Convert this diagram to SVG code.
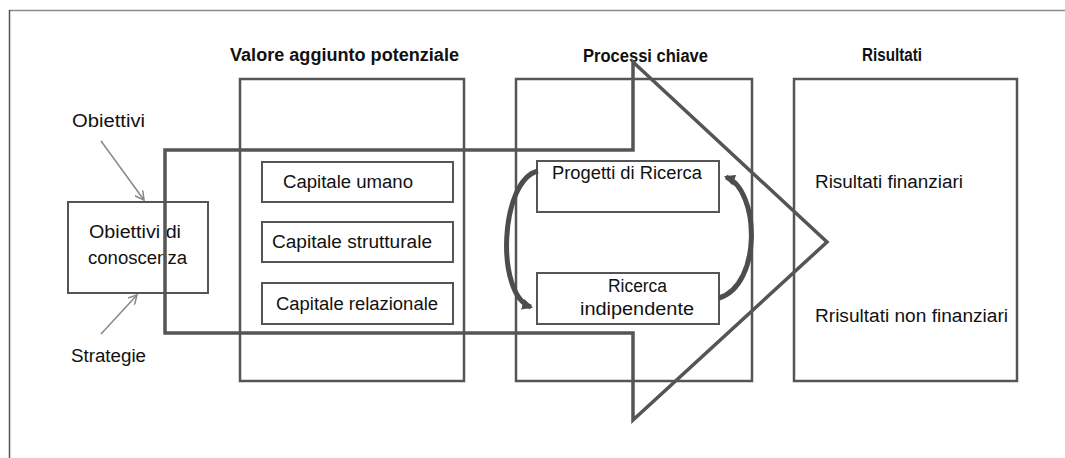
<svg xmlns="http://www.w3.org/2000/svg" width="1065" height="458" viewBox="0 0 1065 458">
<defs>
<style>
.hdr{font-family:"Liberation Sans",Arial,sans-serif;font-weight:bold;font-size:18px;fill:#111}
.txt{font-family:"Liberation Sans",Arial,sans-serif;font-size:18px;fill:#111}
.big{fill:none;stroke:#555;stroke-width:2.5}
.box{fill:none;stroke:#555;stroke-width:2}
.thin{fill:none;stroke:#888;stroke-width:1.5}
.curve{fill:none;stroke:#4d4d4d;stroke-width:5}
</style>
<marker id="open" viewBox="0 0 10 10" refX="9" refY="5" markerWidth="10" markerHeight="10" markerUnits="userSpaceOnUse" orient="auto">
<path d="M0,0 L9,5 L0,10" fill="none" stroke="#888" stroke-width="1.5"/>
</marker>
<marker id="solid" viewBox="0 0 10 10" refX="8" refY="5" markerWidth="11" markerHeight="11" markerUnits="userSpaceOnUse" orient="auto">
<path d="M0,0 L10,5 L0,10 z" fill="#4d4d4d"/>
</marker>
</defs>
<rect width="1065" height="458" fill="#fff"/>
<g id="frame">
<line x1="9" y1="10.5" x2="1065" y2="10.5" stroke="#8a8a8a" stroke-width="1.5"/>
<line x1="9.5" y1="10" x2="9.5" y2="458" stroke="#555" stroke-width="1.5"/>
</g>
<g id="headers">
<text class="hdr" x="230" y="61" textLength="229" lengthAdjust="spacingAndGlyphs">Valore aggiunto potenziale</text>
<text class="hdr" x="583" y="62" textLength="125" lengthAdjust="spacingAndGlyphs">Processi chiave</text>
<text class="hdr" x="862" y="61" textLength="60" lengthAdjust="spacingAndGlyphs">Risultati</text>
</g>
<g id="valore">
<rect class="big" x="240" y="79" width="224" height="302"/>
</g>
<g id="processi">
<rect class="big" x="516" y="79" width="236" height="302"/>
</g>
<g id="risultati">
<rect class="big" x="794" y="79" width="223" height="302"/>
<text class="txt" x="815" y="188" textLength="148" lengthAdjust="spacingAndGlyphs">Risultati finanziari</text>
<text class="txt" x="815" y="322" textLength="193" lengthAdjust="spacingAndGlyphs">Rrisultati non finanziari</text>
</g>
<g id="capitale-umano">
<rect class="box" x="262" y="162" width="191" height="40"/>
<text class="txt" x="283" y="188" textLength="130" lengthAdjust="spacingAndGlyphs">Capitale umano</text>
</g>
<g id="capitale-strutturale">
<rect class="box" x="262" y="222" width="191" height="40"/>
<text class="txt" x="272" y="248" textLength="160" lengthAdjust="spacingAndGlyphs">Capitale strutturale</text>
</g>
<g id="capitale-relazionale">
<rect class="box" x="262" y="283" width="191" height="41"/>
<text class="txt" x="276" y="310" textLength="162" lengthAdjust="spacingAndGlyphs">Capitale relazionale</text>
</g>
<g id="progetti">
<rect class="box" x="537" y="161" width="182" height="51"/>
<text class="txt" x="552" y="179" textLength="150" lengthAdjust="spacingAndGlyphs">Progetti di Ricerca</text>
</g>
<g id="ricerca-indipendente">
<rect class="box" x="537" y="273" width="182" height="51"/>
<text class="txt" x="608" y="292" textLength="59" lengthAdjust="spacingAndGlyphs">Ricerca</text>
<text class="txt" x="580" y="315" textLength="114" lengthAdjust="spacingAndGlyphs">indipendente</text>
</g>
<g id="obiettivi-conoscenza">
<rect class="box" x="68" y="202" width="140" height="91" stroke="#777"/>
<text class="txt" x="89" y="238" textLength="92" lengthAdjust="spacingAndGlyphs">Obiettivi di</text>
<text class="txt" x="88" y="264" textLength="99" lengthAdjust="spacingAndGlyphs">conoscenza</text>
</g>
<g id="obiettivi">
<text class="txt" x="72" y="127" textLength="73" lengthAdjust="spacingAndGlyphs">Obiettivi</text>
</g>
<g id="strategie">
<text class="txt" x="71" y="362" textLength="75" lengthAdjust="spacingAndGlyphs">Strategie</text>
</g>
<g id="big-arrow">
<polygon points="165,150 633,150 633,62 827,242 633,420 633,333 165,333" fill="none" stroke="#555" stroke-width="3.5" stroke-linejoin="miter"/>
</g>
<g id="connectors">
<line class="thin" x1="101" y1="141" x2="144" y2="200" marker-end="url(#open)"/>
<line class="thin" x1="101" y1="334" x2="137" y2="295" marker-end="url(#open)"/>
<path class="curve" d="M538,171 C500,180 495,295 531,307" marker-end="url(#solid)"/>
<path class="curve" d="M719,298 C762,285 760,190 726,177" marker-end="url(#solid)"/>
</g>
</svg>
